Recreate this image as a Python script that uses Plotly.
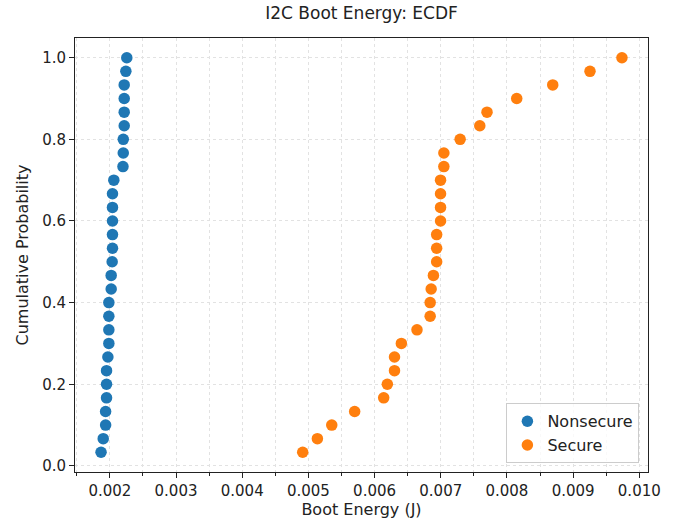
import plotly.graph_objects as go

nonsecure_energy = [
    0.001867, 0.001900, 0.001936, 0.001936, 0.001950, 0.001950, 0.001950, 0.001970,
    0.001985, 0.001985, 0.001985, 0.001985, 0.002020, 0.002020, 0.002035, 0.002040,
    0.002040, 0.002040, 0.002040, 0.002040, 0.002060, 0.002198, 0.002203, 0.002203,
    0.002217, 0.002217, 0.002217, 0.002217, 0.002242, 0.002256,
]
secure_energy = [
    0.004914, 0.005136, 0.005353, 0.005699, 0.006138, 0.006193, 0.006301, 0.006301,
    0.006405, 0.006641, 0.006840, 0.006840, 0.006855, 0.006889, 0.006938, 0.006938,
    0.006938, 0.006997, 0.006997, 0.006997, 0.006997, 0.007047, 0.007047, 0.007293,
    0.007590, 0.007699, 0.008148, 0.008692, 0.009255, 0.009738,
]
series_names = ["Nonsecure", "Secure"]
series_colors = ["#1f77b4", "#ff7f0e"]
x_tick_vals = [0.002, 0.003, 0.004, 0.005, 0.006, 0.007, 0.008, 0.009, 0.010]
x_tick_text = ["0.002", "0.003", "0.004", "0.005", "0.006", "0.007", "0.008", "0.009", "0.010"]
y_tick_vals = [0.0, 0.2, 0.4, 0.6, 0.8, 1.0]
y_tick_text = ["0.0", "0.2", "0.4", "0.6", "0.8", "1.0"]


def ecdf_y(vals):
    n = len(vals)
    return [(i + 1) / n for i in range(n)]


fig = go.Figure()
for name, vals, color in zip(series_names, [nonsecure_energy, secure_energy], series_colors):
    fig.add_trace(go.Scatter(
        x=sorted(vals), y=ecdf_y(vals), mode="markers", name=name,
        marker=dict(color=color, size=11.5, line=dict(width=0)),
    ))

allx = nonsecure_energy + secure_energy
xmin, xmax = min(allx), max(allx)
xm = 0.05 * (xmax - xmin)
ymin, ymax = 1 / 30, 1.0
ym = 0.05 * (ymax - ymin)

font = "DejaVu Sans"
grid_col = "#e2e2e2"
axis_common = dict(
    showline=True, linecolor="#222", linewidth=1, mirror=True,
    ticks="outside", ticklen=5, tickcolor="#222", tickwidth=1,
    showgrid=True, gridcolor=grid_col, griddash="dot", gridwidth=0.7,
    zeroline=False, tickfont=dict(size=15, color="#222", family=font),
)

fig.update_layout(
    width=673, height=527,
    margin=dict(l=75, r=12, t=38, b=51),
    paper_bgcolor="white", plot_bgcolor="white",
    font=dict(family=font, color="#222", size=15),
    title=dict(text="I2C Boot Energy: ECDF", x=0.5, xref="paper", xanchor="center",
               y=1 - 13 / 527, yref="container", yanchor="middle",
               font=dict(size=17, family=font, color="#222")),
    xaxis=dict(
        range=[xmin - xm, xmax + xm], tickvals=x_tick_vals, ticktext=x_tick_text,
        title=dict(text="Boot Energy (J)", font=dict(size=16), standoff=4),
        minor=dict(dtick=0.0005, tick0=0.0, ticks="outside", ticklen=3, tickcolor="#222",
                   showgrid=True, gridcolor=grid_col, griddash="dot", gridwidth=0.7),
        **axis_common,
    ),
    yaxis=dict(
        range=[ymin - ym, ymax + ym], tickvals=y_tick_vals, ticktext=y_tick_text,
        title=dict(text="Cumulative Probability", font=dict(size=16), standoff=9),
        **axis_common,
    ),
    legend=dict(
        x=0.985, xanchor="right", y=0.02, yanchor="bottom",
        bgcolor="rgba(255,255,255,0.8)", bordercolor="#cccccc", borderwidth=1,
        font=dict(size=16, color="#222", family=font),
        itemwidth=30,
    ),
)

fig.write_html("out.html")
